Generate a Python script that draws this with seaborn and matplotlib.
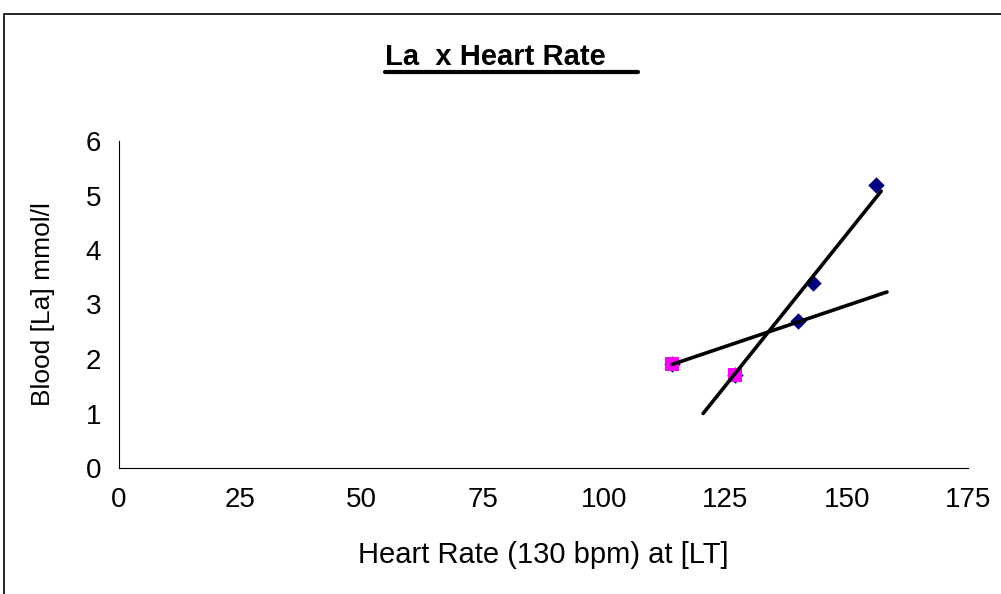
import matplotlib
matplotlib.use("Agg")
import matplotlib.pyplot as plt
import seaborn as sns
import pandas as pd
from matplotlib.patches import Rectangle
from matplotlib.lines import Line2D

# data
hr_all = [114, 127, 140, 143, 156]
la_all = [1.9, 1.7, 2.7, 3.4, 5.2]
hr_low = [114, 127]
la_low = [1.9, 1.7]
# trendline ends as drawn in the original
steep_x = [120.4, 157.1]
steep_y = [1.0, 5.08]
flat_x = [114, 158.3]
flat_y = [1.9, 3.23]

x_ticks = [0, 25, 50, 75, 100, 125, 150, 175]
y_ticks = [0, 1, 2, 3, 4, 5, 6]

sns.set_style("white")
plt.rcParams['font.family'] = ['Liberation Sans', 'DejaVu Sans']
plt.rcParams['text.color'] = 'black'
plt.rcParams['axes.labelcolor'] = 'black'

fig = plt.figure(figsize=(10.01, 5.94), dpi=100)
ax = fig.add_axes([119 / 1001, 126 / 594, 849 / 1001, 327 / 594])

df_all = pd.DataFrame({"hr": hr_all, "la": la_all})
df_low = pd.DataFrame({"hr": hr_low, "la": la_low})

sns.scatterplot(data=df_all, x="hr", y="la", marker="D", s=70, color="#000080",
                edgecolor="#000080", linewidth=0, ax=ax, zorder=3)
sns.scatterplot(data=df_low, x="hr", y="la", marker="s", s=110, color="#FF00FF",
                edgecolor="#FF00FF", linewidth=0, ax=ax, zorder=4)
sns.lineplot(x=steep_x, y=steep_y, color="black", linewidth=2.6, ax=ax, zorder=5)
sns.lineplot(x=flat_x, y=flat_y, color="black", linewidth=2.6, ax=ax, zorder=5)

ax.set_xlim(0, 175)
ax.set_ylim(0, 6)
ax.set_xticks(x_ticks)
ax.set_yticks(y_ticks)
ax.tick_params(axis="both", direction="out", length=5, width=0.8, labelsize=20,
               colors="black", labelcolor="black")
ax.tick_params(axis="x", pad=9)
ax.tick_params(axis="y", pad=8)
for s in ["top", "right"]:
    ax.spines[s].set_visible(False)
for s in ["left", "bottom"]:
    ax.spines[s].set_color("black")
    ax.spines[s].set_linewidth(0.8)

ax.set_xlabel("Heart Rate (130 bpm) at [LT]", fontsize=21, labelpad=20, color="black")
ax.set_ylabel("Blood [La] mmol/l", fontsize=19, labelpad=22, color="black")

fig.text(385 / 1001, 1 - 57 / 594, "La  x Heart Rate", fontsize=21, fontweight="bold",
         ha="left", va="center", color="black")
fig.add_artist(Line2D([385 / 1001, 638 / 1001], [1 - 72 / 594, 1 - 72 / 594],
                      color="black", linewidth=3, transform=fig.transFigure))

fig.add_artist(Rectangle((4 / 1001, -0.05), 1.1, 1 - 14 / 594 + 0.05, fill=False,
                         edgecolor="black", linewidth=1.2, transform=fig.transFigure))

fig.savefig("out.png", dpi=100)
